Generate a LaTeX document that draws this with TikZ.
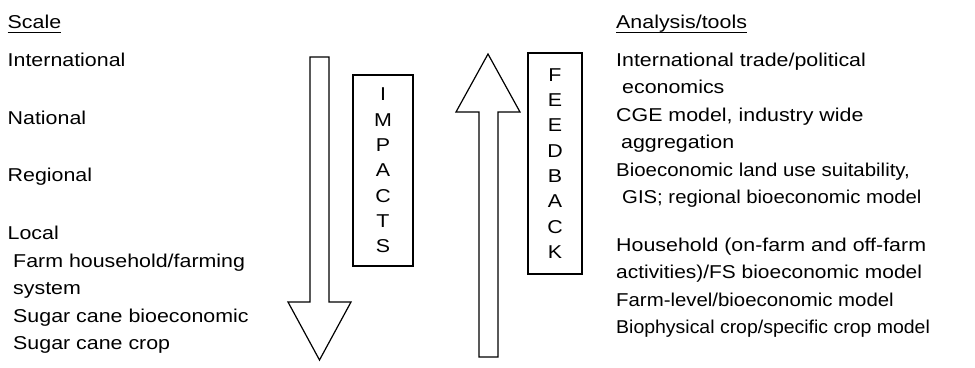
\documentclass[tikz,border=0pt]{standalone}
\usepackage{graphicx}
\usepackage{fontspec}
\setmainfont[FakeStretch=1.15]{Liberation Sans}
\begin{document}
\begin{tikzpicture}[x=1pt,y=-1pt,
  txt/.style={anchor=base west,inner sep=0pt,font=\fontsize{18.6}{22}\selectfont},
  vbox/.style={draw,line width=1.2pt,inner sep=0pt,align=center,font=\fontsize{18.6}{25.3}\selectfont},
  blockarrow/.style={draw,line width=1.2pt,line join=miter,fill=white},
  uline/.style={line width=0.9pt}]
\useasboundingbox (0,0) rectangle (975,367);
% left column
\node[txt] (scale) at (7.5,28) {Scale};
\draw[uline] ([yshift=-4.5pt]scale.base west) -- ([yshift=-4.5pt]scale.base east);
\node[txt] (intl) at (7.5,66) {International};
\node[txt] (natl) at (7.5,124) {National};
\node[txt] (regl) at (7.5,181) {Regional};
\node[txt] (locl) at (7.5,239) {Local};
\node[txt] (farm) at (13,267) {Farm household/farming};
\node[txt] (syst) at (13,294) {system};
\node[txt] (scbe) at (13,322) {Sugar cane bioeconomic};
\node[txt] (sccr) at (13,349) {Sugar cane crop};
% right column
\node[txt] (anal) at (616,28) {Analysis/tools};
\draw[uline] ([yshift=-4.5pt]anal.base west) -- ([yshift=-4.5pt]anal.base east);
\node[txt] (r1) at (616,66) {International trade/political};
\node[txt] (r2) at (622,93.5) {economics};
\node[txt] (r3) at (616,121) {CGE model, industry wide};
\node[txt] (r4) at (621,148.5) {aggregation};
\node[txt] (r5) at (616,176) {\scalebox{0.955}[1]{Bioeconomic land use suitability,}};
\node[txt] (r6) at (622,203.5) {\scalebox{0.95}[1]{GIS; regional bioeconomic model}};
\node[txt] (r7) at (616,251) {Household (on-farm and off-farm};
\node[txt] (r8) at (616,278.5) {\scalebox{0.978}[1]{activities)/FS bioeconomic model}};
\node[txt] (r9) at (616,306) {\scalebox{0.953}[1]{Farm-level/bioeconomic model}};
\node[txt] (r10) at (616,333.5) {\scalebox{0.91}[1]{Biophysical crop/specific crop model}};
% arrows
\draw[blockarrow] (310,57) -- (329,57) -- (329,302) -- (351,302) -- (319.5,360) -- (288,302) -- (310,302) -- cycle;
\draw[blockarrow] (479,357) -- (498,357) -- (498,112) -- (520,112) -- (488,54) -- (456,112) -- (479,112) -- cycle;
% labelled boxes
\node[vbox,minimum width=60pt,minimum height=191pt] (impacts) at (383,170.5) {I\\M\\P\\A\\C\\T\\S};
\node[vbox,minimum width=54pt,minimum height=221pt] (feedback) at (555,163.5) {F\\E\\E\\D\\B\\A\\C\\K};
\end{tikzpicture}
\end{document}
